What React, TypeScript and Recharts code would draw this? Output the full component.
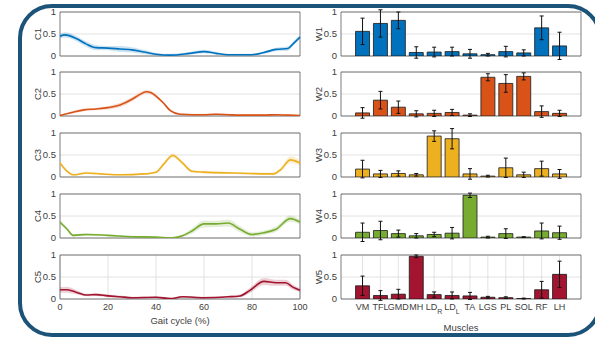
import React from 'react'
import {
  ComposedChart,
  Bar,
  Line,
  Area,
  XAxis,
  YAxis,
  CartesianGrid,
  ReferenceArea,
  ErrorBar,
} from 'recharts'

const MUSCLES = ['VM', 'TFL', 'GMD', 'MH', 'LD_R', 'LD_L', 'TA', 'LGS', 'PL', 'SOL', 'RF', 'LH']
const GAIT_TICKS = [0, 20, 40, 60, 80, 100]
const Y_TICKS = [0, 0.5, 1]

// synergy weights (mean, sd) per muscle
const W1 = [0.56, 0.74, 0.81, 0.08, 0.09, 0.1, 0.05, 0.03, 0.1, 0.07, 0.64, 0.23]
const W1_ERR = [0.3, 0.31, 0.19, 0.13, 0.11, 0.1, 0.1, 0.03, 0.12, 0.07, 0.27, 0.31]
const W2 = [0.07, 0.36, 0.2, 0.05, 0.06, 0.08, 0.02, 0.88, 0.74, 0.9, 0.1, 0.06]
const W2_ERR = [0.12, 0.2, 0.14, 0.07, 0.07, 0.07, 0.03, 0.08, 0.2, 0.08, 0.13, 0.07]
const W3 = [0.18, 0.07, 0.08, 0.05, 0.93, 0.87, 0.07, 0.02, 0.21, 0.05, 0.19, 0.07]
const W3_ERR = [0.2, 0.08, 0.06, 0.03, 0.12, 0.23, 0.12, 0.02, 0.22, 0.06, 0.17, 0.1]
const W4 = [0.13, 0.17, 0.1, 0.05, 0.08, 0.11, 0.97, 0.02, 0.1, 0.02, 0.16, 0.12]
const W4_ERR = [0.21, 0.21, 0.08, 0.05, 0.05, 0.13, 0.05, 0.02, 0.11, 0.01, 0.18, 0.15]
const W5 = [0.3, 0.08, 0.11, 0.97, 0.1, 0.08, 0.07, 0.04, 0.03, 0.01, 0.21, 0.56]
const W5_ERR = [0.22, 0.11, 0.11, 0.03, 0.06, 0.08, 0.08, 0.02, 0.02, 0.01, 0.19, 0.3]

// activation curves over the gait cycle
const C1_T = [0, 2, 7, 11, 15, 20, 25, 30, 35, 40, 46, 54, 60, 65, 70, 80, 85, 90, 95, 97, 100]
const C1 = [0.45, 0.48, 0.39, 0.27, 0.19, 0.18, 0.16, 0.14, 0.09, 0.04, 0.02, 0.06, 0.1, 0.06, 0.03, 0.03, 0.08, 0.15, 0.17, 0.27, 0.43]
const C1_SD = [0.05, 0.06, 0.06, 0.06, 0.06, 0.05, 0.07, 0.06, 0.05, 0.03, 0.03, 0.03, 0.04, 0.03, 0.02, 0.02, 0.03, 0.04, 0.05, 0.05, 0.04]

const C2_T = [0, 5, 10, 15, 20, 25, 30, 33, 36, 38, 40, 43, 46, 50, 55, 60, 65, 70, 75, 80, 85, 90, 95, 100]
const C2 = [0.01, 0.08, 0.14, 0.16, 0.19, 0.25, 0.38, 0.48, 0.55, 0.53, 0.45, 0.3, 0.12, 0.04, 0.03, 0.03, 0.04, 0.03, 0.02, 0.02, 0.02, 0.03, 0.02, 0.01]
const C2_SD = [0.02, 0.03, 0.03, 0.03, 0.04, 0.05, 0.05, 0.05, 0.04, 0.04, 0.04, 0.03, 0.03, 0.02, 0.02, 0.02, 0.02, 0.02, 0.02, 0.02, 0.02, 0.02, 0.02, 0.02]

const C3_T = [0, 3, 5.5, 11, 17, 25, 35, 40, 43, 47, 51, 55, 60, 72, 89, 92, 96, 100]
const C3 = [0.32, 0.13, 0.05, 0.09, 0.07, 0.05, 0.07, 0.11, 0.28, 0.49, 0.32, 0.13, 0.11, 0.09, 0.07, 0.17, 0.39, 0.32]
const C3_SD = [0.04, 0.03, 0.02, 0.03, 0.02, 0.02, 0.02, 0.03, 0.04, 0.05, 0.04, 0.03, 0.03, 0.02, 0.03, 0.05, 0.08, 0.06]

const C4_T = [0, 3, 5.5, 11, 20, 30, 40, 46, 51, 55, 60, 65, 70, 75, 80, 85, 90, 96, 100]
const C4 = [0.36, 0.2, 0.06, 0.08, 0.06, 0.03, 0.02, 0.0, 0.05, 0.16, 0.32, 0.32, 0.34, 0.2, 0.08, 0.12, 0.2, 0.44, 0.36]
const C4_SD = [0.05, 0.04, 0.03, 0.03, 0.02, 0.02, 0.02, 0.02, 0.03, 0.06, 0.08, 0.07, 0.08, 0.07, 0.05, 0.05, 0.06, 0.07, 0.05]

const C5_T = [0, 3, 7, 11, 15, 20, 25, 30, 40, 46, 51, 60, 70, 75, 79, 85, 90, 94, 97, 100]
const C5 = [0.21, 0.21, 0.15, 0.09, 0.1, 0.07, 0.05, 0.03, 0.04, 0.01, 0.05, 0.03, 0.05, 0.07, 0.19, 0.4, 0.37, 0.37, 0.27, 0.2]
const C5_SD = [0.06, 0.07, 0.05, 0.03, 0.03, 0.03, 0.03, 0.02, 0.02, 0.02, 0.02, 0.02, 0.02, 0.03, 0.06, 0.08, 0.07, 0.07, 0.06, 0.04]

const COLORS = ['#0072BD', '#D95319', '#EDB120', '#77AC30', '#A2142F']
const TEXT = '#404040'
const GRID = '#dadada'
const BOX = '#5a5a5a'
const PLOT_H = 44
const PAD = 7
const PANEL_TOPS = [12, 72, 133, 194, 255]

function yTitle(value: string, dx: number) {
  return (props: any) => {
    const vb = props.viewBox ?? {}
    const cx = (vb.x ?? 0) + dx
    const cy = (vb.y ?? 0) + (vb.height ?? 0) / 2
    return (
      <text x={cx} y={cy} transform={`rotate(-90 ${cx} ${cy})`} textAnchor='middle'
        dominantBaseline='central' fontSize={9.5} fill={TEXT}>
        {value}
      </text>
    )
  }
}

function xTitle(value: string, dy: number) {
  return (props: any) => {
    const vb = props.viewBox ?? {}
    return (
      <text x={(vb.x ?? 0) + (vb.width ?? 0) / 2} y={(vb.y ?? 0) + dy} textAnchor='middle'
        dominantBaseline='central' fontSize={9.5} fill={TEXT}>
        {value}
      </text>
    )
  }
}

function MuscleTick({ x, y, payload }: any) {
  const label = MUSCLES[payload.value - 1] ?? ''
  const [main, sub] = label.split('_')
  return (
    <text x={x} y={y} dy='0.71em' textAnchor='middle' fontSize={9} fill={TEXT}>
      {main}
      {sub && <tspan fontSize={7} dy={4}>{sub}</tspan>}
    </text>
  )
}

function CurvePanel({ name, t, mean, sd, color, top, showX }: {
  name: string; t: number[]; mean: number[]; sd: number[]; color: string; top: number; showX: boolean
}) {
  const data = t.map((x, i) => ({ t: x, mean: mean[i], band: [mean[i] - sd[i], mean[i] + sd[i]] }))
  const xH = showX ? 32 : 1
  return (
    <div style={{ position: 'absolute', left: 0, top: top - PAD }}>
      <ComposedChart width={310} height={PLOT_H + 2 * PAD + xH} data={data}
        margin={{ top: PAD, right: 10, bottom: PAD, left: 0 }}>
        <CartesianGrid stroke={GRID} strokeWidth={0.8}
          verticalValues={GAIT_TICKS} horizontalValues={Y_TICKS} />
        <XAxis dataKey='t' type='number' domain={[0, 100]} ticks={GAIT_TICKS} height={xH}
          interval={0} axisLine={false} tickLine={false} tickSize={3} tickMargin={2}
          tick={showX ? { fontSize: 9, fill: TEXT } : false}
          label={showX ? { value: 'Gait cycle (%)', content: xTitle('Gait cycle (%)', 21) } : undefined} />
        <YAxis domain={[0, 1]} ticks={Y_TICKS} allowDataOverflow width={60} interval={0}
          axisLine={false} tickLine={false} tickSize={3} tickMargin={1}
          tick={{ fontSize: 9.5, fill: TEXT }}
          label={{ value: name, content: yTitle(name, 37) }} />
        <Area dataKey='band' type='monotone' stroke='none' fill={color} fillOpacity={0.2}
          isAnimationActive={false} />
        <Line dataKey='mean' type='monotone' stroke={color} strokeWidth={1.6} dot={false}
          activeDot={false} isAnimationActive={false} />
        <ReferenceArea x1={0} x2={100} y1={0} y2={1} fill='none' stroke={BOX} strokeWidth={0.8} />
      </ComposedChart>
    </div>
  )
}

const POSITIONS = MUSCLES.map((_, i) => i + 1)

function WeightPanel({ name, values, errs, color, top, showX }: {
  name: string; values: number[]; errs: number[]; color: string; top: number; showX: boolean
}) {
  const data = POSITIONS.map((p, i) => ({ pos: p, w: values[i], err: errs[i] }))
  const xH = showX ? 38 : 1
  return (
    <div style={{ position: 'absolute', left: 300, top: top - PAD }}>
      <ComposedChart width={285} height={PLOT_H + 2 * PAD + xH} data={data}
        margin={{ top: PAD, right: 4, bottom: PAD, left: 0 }}>
        <CartesianGrid stroke={GRID} strokeWidth={0.8}
          verticalValues={POSITIONS} horizontalValues={Y_TICKS} />
        <XAxis dataKey='pos' type='number' domain={[-0.2, 13.2]} ticks={POSITIONS} height={xH}
          interval={0} axisLine={false} tickLine={false} tickSize={3} tickMargin={2}
          tick={showX ? <MuscleTick /> : false}
          label={showX ? { value: 'Muscles', content: xTitle('Muscles', 28) } : undefined} />
        <YAxis domain={[0, 1]} ticks={Y_TICKS} allowDataOverflow width={41} interval={0}
          axisLine={false} tickLine={false} tickSize={3} tickMargin={1}
          tick={{ fontSize: 9.5, fill: TEXT }}
          label={{ value: name, content: yTitle(name, 18) }} />
        <Bar dataKey='w' fill={color} stroke='#1a1a1a' strokeWidth={0.8} barSize={14}
          isAnimationActive={false}>
          <ErrorBar dataKey='err' direction='y' width={2} stroke='#111' strokeWidth={1}
            isAnimationActive={false} />
        </Bar>
        <ReferenceArea x1={-0.2} x2={13.2} y1={0} y2={1} fill='none' stroke={BOX} strokeWidth={0.8} />
      </ComposedChart>
    </div>
  )
}

const CURVES = [
  { name: 'C1', t: C1_T, mean: C1, sd: C1_SD },
  { name: 'C2', t: C2_T, mean: C2, sd: C2_SD },
  { name: 'C3', t: C3_T, mean: C3, sd: C3_SD },
  { name: 'C4', t: C4_T, mean: C4, sd: C4_SD },
  { name: 'C5', t: C5_T, mean: C5, sd: C5_SD },
]

const WEIGHTS = [
  { name: 'W1', values: W1, errs: W1_ERR },
  { name: 'W2', values: W2, errs: W2_ERR },
  { name: 'W3', values: W3, errs: W3_ERR },
  { name: 'W4', values: W4, errs: W4_ERR },
  { name: 'W5', values: W5, errs: W5_ERR },
]

export default function App() {
  return (
    <div style={{
      position: 'absolute', left: 0, top: 0, width: 595, height: 337, overflow: 'hidden',
      background: '#fff', fontFamily: '"Liberation Sans", Arial, sans-serif',
    }}>
      <div style={{
        position: 'absolute', left: 18, top: 4, width: 584, height: 333, boxSizing: 'border-box',
        border: '4px solid #1c5378', borderRadius: 34,
      }} />
      {CURVES.map((c, i) => (
        <CurvePanel key={c.name} {...c} color={COLORS[i]} top={PANEL_TOPS[i]} showX={i === 4} />
      ))}
      {WEIGHTS.map((w, i) => (
        <WeightPanel key={w.name} {...w} color={COLORS[i]} top={PANEL_TOPS[i]} showX={i === 4} />
      ))}
    </div>
  )
}
